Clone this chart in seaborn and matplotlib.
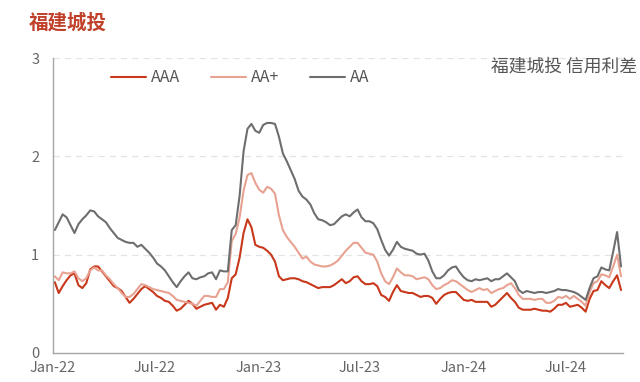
import numpy as np
import pandas as pd
import seaborn as sns
import matplotlib.pyplot as plt
import matplotlib.dates as mdates
from matplotlib.lines import Line2D

# ---- data (weekly) ----
aaa = [0.72, 0.61, 0.68, 0.74, 0.79, 0.81, 0.69, 0.66, 0.71, 0.85,
       0.88, 0.88, 0.83, 0.78, 0.73, 0.68, 0.66, 0.63, 0.57, 0.51,
       0.55, 0.60, 0.65, 0.68, 0.65, 0.62, 0.58, 0.56, 0.53, 0.52,
       0.48, 0.43, 0.45, 0.49, 0.53, 0.50, 0.45, 0.47, 0.49, 0.50,
       0.51, 0.44, 0.49, 0.47, 0.56, 0.76, 0.80, 0.97, 1.22, 1.36,
       1.28, 1.10, 1.08, 1.07, 1.04, 1.00, 0.93, 0.78, 0.74, 0.75,
       0.76, 0.76, 0.75, 0.73, 0.72, 0.70, 0.68, 0.66, 0.67, 0.67,
       0.67, 0.69, 0.72, 0.75, 0.71, 0.73, 0.77, 0.78, 0.73, 0.70,
       0.70, 0.71, 0.68, 0.59, 0.57, 0.53, 0.62, 0.69, 0.63, 0.62,
       0.61, 0.61, 0.59, 0.57, 0.58, 0.58, 0.56, 0.50, 0.55, 0.59,
       0.61, 0.62, 0.62, 0.58, 0.54, 0.53, 0.54, 0.52, 0.52, 0.52,
       0.52, 0.47, 0.49, 0.53, 0.57, 0.61, 0.56, 0.52, 0.46, 0.44,
       0.44, 0.44, 0.45, 0.44, 0.43, 0.43, 0.42, 0.45, 0.49, 0.49,
       0.51, 0.47, 0.48, 0.49, 0.46, 0.42, 0.55, 0.63, 0.64, 0.73,
       0.69, 0.66, 0.73, 0.79, 0.64]

aa_plus = [0.78, 0.74, 0.82, 0.81, 0.81, 0.83, 0.76, 0.73, 0.76, 0.84,
           0.87, 0.84, 0.84, 0.79, 0.75, 0.70, 0.66, 0.61, 0.57, 0.57,
           0.60, 0.65, 0.70, 0.69, 0.67, 0.65, 0.64, 0.63, 0.62, 0.61,
           0.58, 0.54, 0.53, 0.52, 0.51, 0.50, 0.48, 0.53, 0.58, 0.58,
           0.57, 0.57, 0.65, 0.65, 0.72, 1.14, 1.21, 1.38, 1.65, 1.81,
           1.83, 1.73, 1.66, 1.63, 1.69, 1.67, 1.62, 1.40, 1.25, 1.18,
           1.13, 1.08, 1.02, 0.96, 0.98, 0.93, 0.90, 0.89, 0.88, 0.88,
           0.89, 0.91, 0.94, 0.99, 1.04, 1.08, 1.12, 1.12, 1.07, 1.02,
           1.01, 1.00, 0.93, 0.81, 0.73, 0.70, 0.77, 0.86, 0.82, 0.79,
           0.79, 0.78, 0.75, 0.76, 0.77, 0.75, 0.69, 0.65, 0.66, 0.69,
           0.71, 0.74, 0.73, 0.70, 0.67, 0.64, 0.62, 0.64, 0.66, 0.64,
           0.65, 0.61, 0.63, 0.65, 0.66, 0.69, 0.71, 0.66, 0.59, 0.55,
           0.55, 0.55, 0.54, 0.55, 0.55, 0.51, 0.51, 0.53, 0.57, 0.56,
           0.58, 0.55, 0.58, 0.55, 0.52, 0.48, 0.62, 0.71, 0.73, 0.80,
           0.79, 0.77, 0.88, 1.00, 0.78]

aa = [1.25, 1.33, 1.41, 1.38, 1.30, 1.22, 1.31, 1.36, 1.40, 1.45,
      1.44, 1.39, 1.36, 1.33, 1.27, 1.22, 1.17, 1.15, 1.13, 1.12,
      1.12, 1.08, 1.10, 1.06, 1.02, 0.97, 0.91, 0.88, 0.84, 0.78,
      0.72, 0.67, 0.73, 0.78, 0.82, 0.76, 0.75, 0.77, 0.78, 0.81,
      0.82, 0.75, 0.84, 0.83, 0.83, 1.25, 1.30, 1.60, 2.05, 2.28,
      2.33, 2.26, 2.24, 2.32, 2.34, 2.34, 2.33, 2.20, 2.03, 1.95,
      1.86, 1.77, 1.65, 1.59, 1.56, 1.51, 1.42, 1.36, 1.35, 1.33,
      1.30, 1.31, 1.35, 1.39, 1.41, 1.39, 1.43, 1.46, 1.38, 1.34,
      1.34, 1.32, 1.26, 1.15, 1.05, 0.99, 1.05, 1.13, 1.08, 1.06,
      1.05, 1.04, 1.01, 1.00, 1.01, 0.94, 0.83, 0.76, 0.76, 0.79,
      0.84, 0.87, 0.88, 0.82, 0.77, 0.74, 0.73, 0.75, 0.74, 0.75,
      0.76, 0.73, 0.75, 0.75, 0.78, 0.81, 0.77, 0.73, 0.64, 0.61,
      0.63, 0.62, 0.61, 0.62, 0.62, 0.61, 0.62, 0.63, 0.65, 0.64,
      0.64, 0.63, 0.62, 0.60, 0.57, 0.54, 0.66, 0.76, 0.78, 0.87,
      0.85, 0.84, 1.03, 1.23, 0.88]

series_names = ["AAA", "AA+", "AA"]
series_colors = ["#C8381A", "#E8A291", "#6E6E6E"]
y_ticks = [0, 1, 2, 3]
title_text = "福建城投"
note_text = "福建城投 信用利差"

dates = pd.date_range("2022-01-04", periods=len(aaa), freq="7D")

df = pd.DataFrame({
    "date": np.concatenate([dates, dates, dates]),
    "value": aaa + aa_plus + aa,
    "series": [series_names[0]] * len(aaa) + [series_names[1]] * len(aa_plus) + [series_names[2]] * len(aa),
})

sns.set_theme(style="white")
plt.rcParams["font.family"] = ["Noto Sans CJK SC", "DejaVu Sans"]

fig = plt.figure(figsize=(6.4, 3.82), dpi=100)
ax = fig.add_axes([0.083, 0.076, 0.890, 0.772])

palette = dict(zip(series_names, series_colors))
sns.lineplot(data=df, x="date", y="value", hue="series", hue_order=series_names,
             palette=palette, linewidth=1.5, ax=ax, legend=False)

ax.set_xlim(pd.Timestamp("2022-01-01"), pd.Timestamp("2024-10-11"))
ax.set_ylim(0, 3)
ax.set_yticks(y_ticks)
ax.set_xlabel("")
ax.set_ylabel("")

ax.xaxis.set_major_locator(mdates.MonthLocator(bymonth=[1, 7]))
ax.xaxis.set_major_formatter(mdates.DateFormatter("%b-%y"))

for y in y_ticks[1:]:
    ax.axhline(y, color="#E3E3E3", linewidth=0.9, linestyle=(0, (5, 4)), zorder=0)

for s in ["top", "right"]:
    ax.spines[s].set_visible(False)
for s in ["left", "bottom"]:
    ax.spines[s].set_color("#A6A6A6")
    ax.spines[s].set_linewidth(1.0)

ax.tick_params(axis="both", which="both", direction="in", length=4, width=1,
               color="#A6A6A6", labelcolor="#666666", labelsize=10.5)
ax.tick_params(axis="y", pad=10)
ax.tick_params(axis="x", pad=6)

handles = [Line2D([0], [0], color=c, linewidth=1.5) for c in series_colors]
ax.legend(handles, series_names, loc="upper left", bbox_to_anchor=(0.077, 1.01),
          ncol=3, frameon=False, fontsize=11.5, handlelength=2.2, handletextpad=0.3,
          columnspacing=1.9, labelcolor="#555555")

fig.text(0.045, 0.94, title_text, fontsize=14, fontweight="bold", color="#C0402A",
         ha="left", va="center")
fig.text(0.995, 0.825, note_text, fontsize=12.8, color="#555555", ha="right", va="center")

fig.savefig("out.png", dpi=100)
